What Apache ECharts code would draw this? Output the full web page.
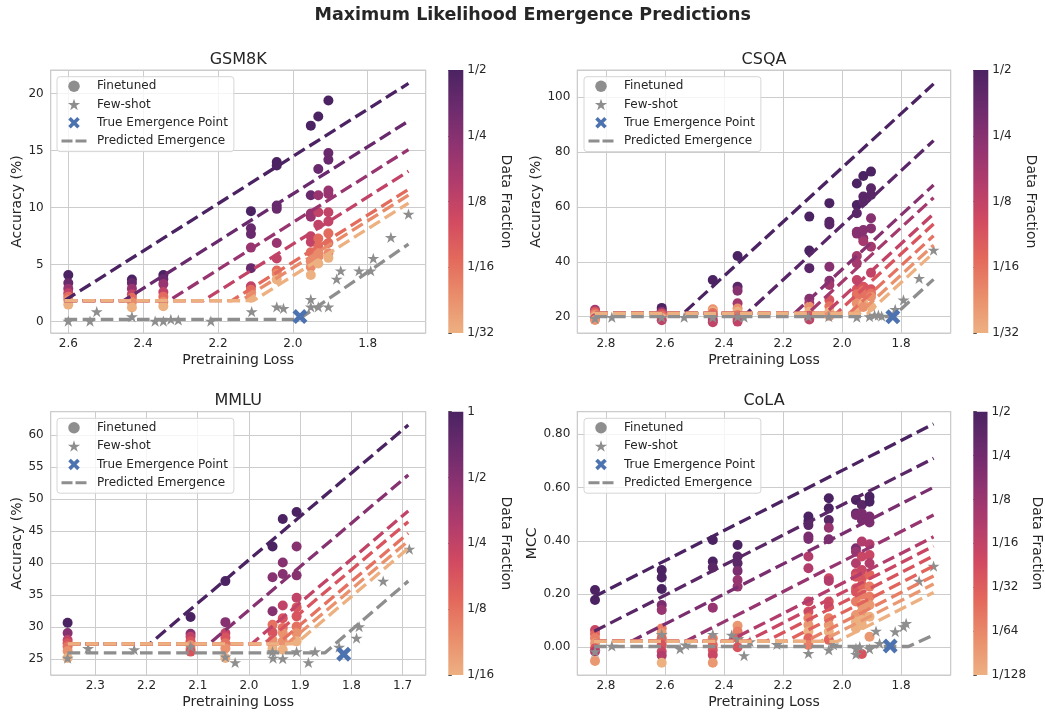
<!DOCTYPE html>
<html><head><meta charset="utf-8">
<script src="https://cdn.jsdelivr.net/npm/echarts@6/dist/echarts.min.js"></script>
<style>html,body{margin:0;padding:0;background:#fff}#c{width:1045px;height:713px}</style>
</head><body><div id="c"></div>
<script>
// ---------------- DATA ----------------
// Data fractions are stored as log2(fraction); fit lines / finetuned runs ordered darkest (largest) first.
const gsmFractions = [-1, -1.5, -2.3, -3, -3.9, -4.4, -5];
const gsmFracRange = [-5, -1];
// finetuned: [pretraining loss, accuracy, fraction index]
const gsmFinetuned = [
 [2.60,4.1,0],[2.60,3.4,1],[2.60,2.9,2],[2.60,2.5,3],[2.60,2.2,4],[2.60,1.9,5],[2.60,1.5,6],
 [2.43,3.7,0],[2.43,3.4,1],[2.43,2.9,2],[2.43,2.4,3],[2.43,2.1,4],[2.43,1.7,5],[2.43,1.25,6],
 [2.346,4.1,0],[2.346,3.75,1],[2.346,3.3,2],[2.346,2.6,3],[2.346,2.2,4],[2.346,1.75,5],[2.346,1.35,6],
 [2.112,9.7,0],[2.112,8.2,1],[2.112,7.7,1],[2.112,6.5,2],[2.112,4.7,1],[2.112,3.1,3],[2.112,2.8,4],[2.112,2.4,5],[2.112,2.1,6],
 [2.043,14.0,0],[2.043,13.7,0],[2.043,10.2,1],[2.043,9.9,1],[2.043,6.9,2],[2.043,5.55,3],[2.043,4.5,4],[2.043,4.2,5],[2.043,3.7,6],
 [1.952,17.2,0],[1.952,11.1,1],[1.952,9.5,2],[1.952,9.2,2],[1.952,7.5,3],[1.952,7.0,3],[1.952,6.1,4],[1.952,5.3,5],[1.952,4.8,5],[1.952,4.1,6],
 [1.932,18.0,0],[1.932,13.4,1],[1.932,11.1,2],[1.932,9.6,3],[1.932,8.5,3],[1.932,7.3,4],[1.932,6.6,4],[1.932,6.0,5],[1.932,5.7,5],[1.932,5.1,6],
 [1.905,19.4,0],[1.905,14.8,1],[1.905,14.2,1],[1.905,11.5,2],[1.905,11.2,2],[1.905,9.6,3],[1.905,8.8,3],[1.905,7.75,4],[1.905,6.9,4],[1.905,6.0,5],[1.905,5.6,6]
];
const gsmFewShot = [
 [2.60,0.06],[2.542,0.06],[2.524,0.88],[2.43,0.44],[2.368,0.06],[2.346,0.06],[2.326,0.2],[2.306,0.15],[2.219,0.06],
 [2.11,0.88],[2.043,1.3],[2.025,1.17],[1.952,1.96],[1.952,1.3],[1.932,1.3],[1.905,1.3],[1.883,3.74],[1.872,4.47],
 [1.823,4.47],[1.792,4.47],[1.785,5.56],[1.738,7.4],[1.691,9.44]
];
const gsmTrueEmergence = [[1.981,0.45]];
// fitted curves (one per data fraction): vertices [loss, accuracy]
const gsmFits = [
 [[2.61,1.85],[1.691,20.9]],
 [[2.61,1.85],[2.452,1.85],[1.691,17.6]],
 [[2.61,1.85],[2.331,1.85],[1.691,15.1]],
 [[2.61,1.85],[2.239,1.85],[1.691,13.2]],
 [[2.61,1.85],[2.163,1.85],[1.691,11.6]],
 [[2.61,1.85],[2.139,1.85],[1.691,11.1]],
 [[2.61,1.85],[2.105,1.85],[1.691,10.4]]
];
const gsmPredicted = [[2.61,0.2],[1.985,0.2],[1.691,6.8]];

const csqaFractions = [-1, -1.25, -2, -2.5, -3, -3.5, -4, -4.5, -5];
const csqaFracRange = [-5, -1];
const csqaFinetuned = [
 [2.837,22.5,3],[2.837,21.8,5],[2.837,21.2,6],[2.837,20.6,7],[2.837,20.0,8],[2.837,19.3,4],[2.837,18.8,7],
 [2.611,23.2,0],[2.611,22.2,1],[2.611,21.6,3],[2.611,21.0,5],[2.611,20.3,6],[2.611,19.5,8],[2.611,18.7,4],
 [2.438,33.4,0],[2.438,22.7,7],[2.438,22.0,8],[2.438,21.3,6],[2.438,20.4,5],[2.438,18.8,3],[2.438,18.0,4],
 [2.354,42.1,0],[2.354,30.9,1],[2.354,29.5,2],[2.354,24.9,3],[2.354,23.0,7],[2.354,21.8,8],[2.354,20.5,6],[2.354,19.2,5],[2.354,18.2,4],
 [2.111,56.5,0],[2.111,44.1,0],[2.111,37.7,1],[2.111,26.5,2],[2.111,25.0,3],[2.111,23.6,7],[2.111,21.8,8],[2.111,20.3,5],[2.111,19.0,4],
 [2.043,61.4,0],[2.043,54.6,1],[2.043,53.6,1],[2.043,38.2,2],[2.043,33.1,2],[2.043,31.6,3],[2.043,26.1,5],[2.043,23.8,6],[2.043,21.8,8],[2.043,20.3,7],
 [1.950,68.6,0],[1.950,60.7,0],[1.950,57.7,1],[1.950,51.0,2],[1.950,50.3,2],[1.950,42.1,3],[1.950,39.5,3],[1.950,33.4,4],[1.950,30.0,5],[1.950,28.2,6],[1.950,27.3,6],[1.950,24.9,7],[1.950,22.4,8],
 [1.928,71.3,0],[1.928,63.8,1],[1.928,62.0,1],[1.928,51.6,2],[1.928,48.6,2],[1.928,47.5,3],[1.928,30.9,5],[1.928,29.5,6],[1.928,28.5,6],[1.928,24.9,8],[1.928,23.5,7],
 [1.902,72.9,0],[1.902,66.8,1],[1.902,64.4,1],[1.902,55.9,2],[1.902,52.2,2],[1.902,45.5,3],[1.902,36.0,4],[1.902,30.0,5],[1.902,28.5,6],[1.902,27.3,7],[1.902,23.6,8]
];
const csqaFewShot = [
 [2.837,19.4],[2.78,19.8],[2.611,19.8],[2.535,19.8],[2.438,19.8],[2.354,20.0],[2.332,19.8],[2.114,20.0],[2.045,20.0],
 [1.95,19.8],[1.907,20.0],[1.89,20.6],[1.877,20.6],[1.866,20.2],[1.82,22.7],[1.792,26.1],[1.739,34.0],[1.69,44.3]
];
const csqaTrueEmergence = [[1.828,20.0]];
const csqaFits = [
 [[2.837,21.2],[2.538,21.2],[1.69,104.9]],
 [[2.837,21.2],[2.323,21.2],[1.69,84.2]],
 [[2.837,21.2],[2.162,21.2],[1.69,68.0]],
 [[2.837,21.2],[2.116,21.2],[1.69,63.4]],
 [[2.837,21.2],[2.057,21.2],[1.69,57.5]],
 [[2.837,21.2],[2.019,21.2],[1.69,53.8]],
 [[2.837,21.2],[1.976,21.2],[1.69,49.5]],
 [[2.837,21.2],[1.942,21.2],[1.69,46.1]],
 [[2.837,21.2],[1.914,21.2],[1.69,43.3]]
];
const csqaPredicted = [[2.837,20.0],[1.828,20.0],[1.69,33.6]];

const mmluFractions = [0, -1, -2, -2.5, -3, -3.5, -4];
const mmluFracRange = [-4, 0];
const mmluFinetuned = [
 [2.354,30.7,0],[2.354,29.1,1],[2.354,28.0,2],[2.354,27.5,3],[2.354,27.0,4],[2.354,26.3,5],[2.354,25.2,6],
 [2.114,31.6,0],[2.114,29.0,1],[2.114,28.5,2],[2.114,27.8,3],[2.114,27.2,5],[2.114,26.6,4],[2.114,26.2,3],
 [2.046,37.2,0],[2.046,30.8,1],[2.046,29.1,2],[2.046,28.4,3],[2.046,27.5,4],[2.046,26.7,5],[2.046,25.2,6],
 [1.954,42.6,0],[1.954,37.8,1],[1.954,32.5,1],[1.954,30.4,4],[1.954,29.2,3],[1.954,28.0,5],[1.954,26.7,6],
 [1.934,46.9,0],[1.934,40.1,1],[1.934,38.3,1],[1.934,33.4,2],[1.934,31.4,3],[1.934,29.9,4],[1.934,29.1,5],[1.934,27.8,5],[1.934,26.5,6],
 [1.907,48.0,0],[1.907,42.6,1],[1.907,38.1,1],[1.907,34.6,2],[1.907,33.1,3],[1.907,31.7,3],[1.907,30.1,4],[1.907,29.1,5],[1.907,27.8,6]
];
const mmluFewShot = [
 [2.354,25.2],[2.314,26.7],[2.224,26.5],[2.114,27.0],[2.046,25.4],[2.027,24.5],[1.954,26.2],[1.953,25.2],[1.934,25.1],
 [1.907,26.2],[1.884,24.5],[1.871,26.2],[1.824,26.9],[1.79,28.3],[1.785,30.1],[1.738,37.2],[1.687,42.2]
];
const mmluTrueEmergence = [[1.815,25.8]];
const mmluFits = [
 [[2.354,27.4],[2.194,27.4],[1.689,61.56]],
 [[2.354,27.4],[2.078,27.4],[1.689,53.76]],
 [[2.354,27.4],[1.995,27.4],[1.689,48.14]],
 [[2.354,27.4],[1.971,27.4],[1.689,46.48]],
 [[2.354,27.4],[1.944,27.4],[1.689,44.66]],
 [[2.354,27.4],[1.926,27.4],[1.689,43.46]],
 [[2.354,27.4],[1.909,27.4],[1.689,42.32]]
];
const mmluPredicted = [[2.354,26.0],[1.852,26.0],[1.689,37.2]];

const colaFractions = [-1, -1.4, -2.2, -2.9, -3.6, -4.2, -4.7, -5.2, -5.8, -6.4, -7];
const colaFracRange = [-7, -1];
const colaFinetuned = [
 [2.837,0.215,0],[2.837,0.178,0],[2.837,0.065,5],[2.837,0.05,7],[2.837,0.034,8],[2.837,0.015,9],[2.837,-0.004,6],[2.837,-0.016,4],[2.837,-0.051,9],
 [2.611,0.29,0],[2.611,0.262,0],[2.611,0.219,0],[2.611,0.159,2],[2.611,0.14,3],[2.611,0.071,8],[2.611,0.053,9],[2.611,0.034,7],[2.611,0.009,6],[2.611,-0.016,5],[2.611,-0.031,4],[2.611,-0.058,10],
 [2.438,0.403,0],[2.438,0.322,0],[2.438,0.3,1],[2.438,0.149,3],[2.438,0.034,8],[2.438,0.009,7],[2.438,-0.01,6],[2.438,-0.029,5],[2.438,-0.058,9],
 [2.354,0.384,0],[2.354,0.341,1],[2.354,0.316,1],[2.354,0.287,2],[2.354,0.253,3],[2.354,0.228,3],[2.354,0.081,9],[2.354,0.059,8],[2.354,0.034,7],[2.354,0.0,6],
 [2.114,0.491,0],[2.114,0.474,0],[2.114,0.459,1],[2.114,0.416,2],[2.114,0.407,2],[2.114,0.341,4],[2.114,0.297,4],[2.114,0.172,5],[2.114,0.134,6],[2.114,0.109,8],[2.114,0.084,9],[2.114,0.059,10],[2.114,0.034,7],[2.114,0.009,8],
 [2.045,0.56,0],[2.045,0.522,0],[2.045,0.478,1],[2.045,0.449,3],[2.045,0.406,2],[2.045,0.259,5],[2.045,0.249,4],[2.045,0.172,6],[2.045,0.153,5],[2.045,0.109,8],[2.045,0.084,9],[2.045,0.059,10],[2.045,0.028,7],
 [1.953,0.553,0],[1.953,0.503,1],[1.953,0.497,2],[1.953,0.372,2],[1.953,0.359,3],[1.953,0.316,4],[1.953,0.278,5],[1.953,0.265,6],[1.953,0.222,7],[1.953,0.209,6],[1.953,0.172,8],[1.953,0.121,9],[1.953,0.096,10],[1.953,0.071,10],
 [1.933,0.535,1],[1.933,0.503,2],[1.933,0.478,2],[1.933,0.397,4],[1.933,0.341,5],[1.933,0.29,5],[1.933,0.259,6],[1.933,0.234,7],[1.933,0.197,8],[1.933,0.159,9],[1.933,0.134,9],[1.933,0.103,10],[1.933,0.084,10],[1.933,-0.025,6],
 [1.907,0.566,0],[1.907,0.547,0],[1.907,0.491,2],[1.907,0.469,2],[1.907,0.387,4],[1.907,0.347,5],[1.907,0.316,4],[1.907,0.272,7],[1.907,0.228,8],[1.907,0.19,8],[1.907,0.159,9],[1.907,0.115,10],[1.907,0.04,9]
];
const colaFewShot = [
 [2.837,-0.016],[2.78,0.005],[2.611,0.049],[2.549,-0.006],[2.53,0.009],[2.438,0.049],[2.374,0.046],[2.351,0.034],[2.332,-0.031],
 [2.312,0.021],[2.221,0.011],[2.114,-0.023],[2.045,-0.01],[2.029,0.009],[1.953,-0.026],[1.953,-0.004],[1.94,0.003],[1.907,-0.006],
 [1.885,0.061],[1.873,0.015],[1.82,0.059],[1.792,0.078],[1.783,0.09],[1.739,0.249],[1.69,0.305]
];
const colaTrueEmergence = [[1.837,0.005]];
const colaFits = [
 [[2.84,0.19],[1.69,0.839]],
 [[2.84,0.06],[1.69,0.71]],
 [[2.84,0.022],[2.715,0.022],[1.69,0.601]],
 [[2.84,0.022],[2.531,0.022],[1.69,0.497]],
 [[2.84,0.022],[2.386,0.022],[1.69,0.415]],
 [[2.84,0.022],[2.324,0.022],[1.69,0.38]],
 [[2.84,0.022],[2.258,0.022],[1.69,0.343]],
 [[2.84,0.022],[2.191,0.022],[1.69,0.305]],
 [[2.84,0.022],[2.125,0.022],[1.69,0.268]],
 [[2.84,0.022],[2.072,0.022],[1.69,0.238]],
 [[2.84,0.022],[2.016,0.022],[1.69,0.206]]
];
const colaPredicted = [[2.84,0.003],[1.775,0.003],[1.69,0.046]];

const panelTitles = ['GSM8K', 'CSQA', 'MMLU', 'CoLA'];
const yAxisNames = ['Accuracy (%)', 'Accuracy (%)', 'Accuracy (%)', 'MCC'];
const xAxisName = 'Pretraining Loss';
const colorbarName = 'Data Fraction';
const legendNames = ['Finetuned', 'Few-shot', 'True Emergence Point', 'Predicted Emergence'];
const mainTitle = 'Maximum Likelihood Emergence Predictions';

// ---------------- STYLE / LAYOUT ----------------
const FONT = 'DejaVu Sans';
const TXT = '#262626';
const GRIDC = '#cccccc';
const GRAY = '#8e8e8e';
const BLUE = '#4c72b0';
const LW = 3.3, DASHPAT = [12.6, 5.5];
const STAR = 'path://M50,0 L61.8,35.5 L100,35.5 L69.1,57.4 L80.9,93.5 L50,71.2 L19.1,93.5 L30.9,57.4 L0,35.5 L38.2,35.5 Z';
const XMARK = 'path://M0,22 L22,0 L50,28 L78,0 L100,22 L72,50 L100,78 L78,100 L50,72 L22,100 L0,78 L28,50 Z';
const DASH = 'path://M0,0H11V3H0Z M14,0H25V3H14Z';
const flare = [[0,'#edb081'],[0.143,'#e98d6b'],[0.286,'#e3685c'],[0.429,'#d14a61'],[0.571,'#b13c6c'],[0.714,'#8f3371'],[0.857,'#6c2b6d'],[1,'#4b2362']];
function hex2rgb(h){return [parseInt(h.slice(1,3),16),parseInt(h.slice(3,5),16),parseInt(h.slice(5,7),16)];}
function cmap(t){
  t = Math.max(0, Math.min(1, t));
  for (let i = 1; i < flare.length; i++) {
    if (t <= flare[i][0]) {
      const a = flare[i-1], b = flare[i], u = (t - a[0]) / (b[0] - a[0]);
      const ca = hex2rgb(a[1]), cb = hex2rgb(b[1]);
      return 'rgb(' + ca.map((v,k) => Math.round(v + (cb[k]-v)*u)).join(',') + ')';
    }
  }
  return flare[flare.length-1][1];
}
function fracLabel(v){ return v === 0 ? '1' : '1/' + Math.round(Math.pow(2, -v)); }

const panels = [
  {fr: gsmFractions, rng: gsmFracRange, ft: gsmFinetuned, fs: gsmFewShot, te: gsmTrueEmergence, fits: gsmFits, pred: gsmPredicted,
   x:[1.645,2.647], y:[-0.99,22.08], xs:5, ys:5, yDec:0, box:[50.7,70,375,263], cbx:448.3, yGap:24, cbGap:33, leg:[57,76.7], ty:59.7},
  {fr: csqaFractions, rng: csqaFracRange, ft: csqaFinetuned, fs: csqaFewShot, te: csqaTrueEmergence, fits: csqaFits, pred: csqaPredicted,
   x:[1.632,2.897], y:[14.05,109.96], xs:6, ys:5, yDec:0, box:[577.3,70,373.4,263], cbx:973.3, yGap:32, cbGap:33.5, leg:[584,76.7], ty:59.7},
  {fr: mmluFractions, rng: mmluFracRange, ft: mmluFinetuned, fs: mmluFewShot, te: mmluTrueEmergence, fits: mmluFits, pred: mmluPredicted,
   x:[1.655,2.387], y:[22.55,63.64], xs:5, ys:8, yDec:0, box:[50.7,411.7,375,263.3], cbx:448.3, yGap:24, cbGap:33, leg:[57,418.3], ty:400.8},
  {fr: colaFractions, rng: colaFracRange, ft: colaFinetuned, fs: colaFewShot, te: colaTrueEmergence, fits: colaFits, pred: colaPredicted,
   x:[1.632,2.897], y:[-0.104,0.885], xs:6, ys:5, yDec:2, box:[577.3,411.7,373.4,263.3], cbx:973.3, yGap:38, cbGap:40, leg:[584,418.3], ty:400.8}
];

const grid = [], xAxis = [], yAxis = [], series = [], legend = [], graphic = [];
graphic.push({type:'text', x:532.7, y:15, z:100, style:{text: mainTitle, font:'bold 17.5px "DejaVu Sans"', fill:TXT, textAlign:'center', textVerticalAlign:'middle'}});

panels.forEach((P, i) => {
  const [bl, bt, bw, bh] = P.box;
  const norm = v => (v - P.rng[0]) / (P.rng[1] - P.rng[0]);
  grid.push({left: bl, top: bt, width: bw, height: bh, show: true, borderColor: GRIDC, borderWidth: 1.2, backgroundColor: '#fff'});
  xAxis.push({type:'value', gridIndex:i, min:P.x[0], max:P.x[1], inverse:true, splitNumber:P.xs,
    name: xAxisName, nameLocation:'middle', nameGap:20, nameTextStyle:{color:TXT, fontSize:14, fontFamily:FONT},
    axisLine:{show:false}, axisTick:{show:false},
    axisLabel:{color:TXT, fontSize:12, fontFamily:FONT, margin:5, showMinLabel:false, showMaxLabel:false, formatter: v => v.toFixed(1)},
    splitLine:{show:true, lineStyle:{color:GRIDC, width:1}}});
  yAxis.push({type:'value', gridIndex:i, min:P.y[0], max:P.y[1], splitNumber:P.ys,
    name: yAxisNames[i], nameLocation:'middle', nameGap:P.yGap, nameTextStyle:{color:TXT, fontSize:14, fontFamily:FONT},
    axisLine:{show:false}, axisTick:{show:false},
    axisLabel:{color:TXT, fontSize:12, fontFamily:FONT, margin:7, showMinLabel:false, showMaxLabel:false, formatter: v => v.toFixed(P.yDec)},
    splitLine:{show:true, lineStyle:{color:GRIDC, width:1}}});
  graphic.push({type:'text', x: bl + bw/2, y: P.ty, style:{text: panelTitles[i], font:'16px "DejaVu Sans"', fill:TXT, textAlign:'center', textVerticalAlign:'middle'}});

  // finetuned points
  series.push({type:'scatter', name:'Finetuned', xAxisIndex:i, yAxisIndex:i, symbol:'circle', symbolSize:10, z:2,
    data: P.ft.map(p => [p[0], p[1], P.fr[p[2]]]),
    itemStyle:{opacity:1, color: p => cmap(norm(p.value[2]))}, emphasis:{disabled:true}, silent:true});
  // few-shot stars
  series.push({type:'scatter', name:'Few-shot', xAxisIndex:i, yAxisIndex:i, symbol:STAR, symbolSize:12, symbolKeepAspect:true, z:3,
    data: P.fs, itemStyle:{color:GRAY, opacity:1}, emphasis:{disabled:true}, silent:true});
  // fitted curves per data fraction
  P.fits.forEach((pts, k) => {
    series.push({type:'line', name:'fit'+i+'_'+k, xAxisIndex:i, yAxisIndex:i, data: pts, symbol:'none', z:4,
      lineStyle:{color: cmap(norm(P.fr[k])), width:LW, type:DASHPAT, cap:'butt'}, emphasis:{disabled:true}, silent:true, animation:false});
  });
  // predicted emergence
  series.push({type:'line', name:'Predicted Emergence', xAxisIndex:i, yAxisIndex:i, data: P.pred, symbol:'none', z:5,
    itemStyle:{color:GRAY}, lineStyle:{color:GRAY, width:LW, type:DASHPAT, cap:'butt'}, emphasis:{disabled:true}, silent:true, animation:false});
  // true emergence point
  series.push({type:'scatter', name:'True Emergence Point', xAxisIndex:i, yAxisIndex:i, symbol:XMARK, symbolSize:15, symbolKeepAspect:true, z:6,
    data: P.te, itemStyle:{color:BLUE, opacity:1}, emphasis:{disabled:true}, silent:true});

  legend.push({left:P.leg[0], top:P.leg[1], orient:'vertical', selectedMode:false, z:10,
    itemWidth:25, itemHeight:11.5, itemGap:6.3, padding:[3.5,6,4.5,4.5],
    backgroundColor:'rgba(255,255,255,0.8)', borderColor:'#d6d6d6', borderWidth:1, borderRadius:3,
    textStyle:{color:TXT, fontSize:12, fontFamily:FONT, padding:[0,0,0,5.5]},
    data:[
      {name:legendNames[0], icon:'circle', itemStyle:{color:GRAY, borderWidth:0}},
      {name:legendNames[1], icon:STAR, itemStyle:{color:GRAY, borderWidth:0}},
      {name:legendNames[2], icon:XMARK, itemStyle:{color:BLUE, borderWidth:0}},
      {name:legendNames[3], icon:DASH, itemStyle:{color:GRAY, borderWidth:0}}
    ]});
});

// colorbars
panels.forEach((P, i) => {
  const [bl, bt, bw, bh] = P.box;
  const gi = 4 + i;
  grid.push({left: P.cbx, top: bt, width: 15, height: bh, show:false});
  xAxis.push({type:'value', gridIndex:gi, min:0, max:1, show:false});
  yAxis.push({type:'value', gridIndex:gi, min:P.rng[0], max:P.rng[1], interval:1, position:'right',
    name: colorbarName, nameLocation:'middle', nameRotate:-90, nameGap:P.cbGap, nameTextStyle:{color:TXT, fontSize:14, fontFamily:FONT},
    axisLine:{show:false}, axisTick:{show:true, length:3.5, lineStyle:{color:TXT, width:0.8}},
    axisLabel:{color:TXT, fontSize:12, fontFamily:FONT, margin:4, formatter: fracLabel},
    splitLine:{show:false}});
  series.push({type:'custom', xAxisIndex:gi, yAxisIndex:gi, silent:true, z:1,
    data:[[0, P.rng[0], 1, P.rng[1]]],
    renderItem: (params, api) => {
      const p0 = api.coord([api.value(0), api.value(1)]);
      const p1 = api.coord([api.value(2), api.value(3)]);
      return {type:'rect', shape:{x:p0[0], y:p1[1], width:p1[0]-p0[0], height:p0[1]-p1[1]},
        style:{fill:{type:'linear', x:0, y:1, x2:0, y2:0, colorStops: flare.map(s => ({offset:s[0], color:s[1]}))}}};
    }});
});

const chart = echarts.init(document.getElementById('c'), null, {renderer:'canvas'});
chart.setOption({animation:false, backgroundColor:'#ffffff', textStyle:{fontFamily:FONT},
  grid, xAxis, yAxis, series, legend, graphic, tooltip:{show:false}});
</script></body></html>
